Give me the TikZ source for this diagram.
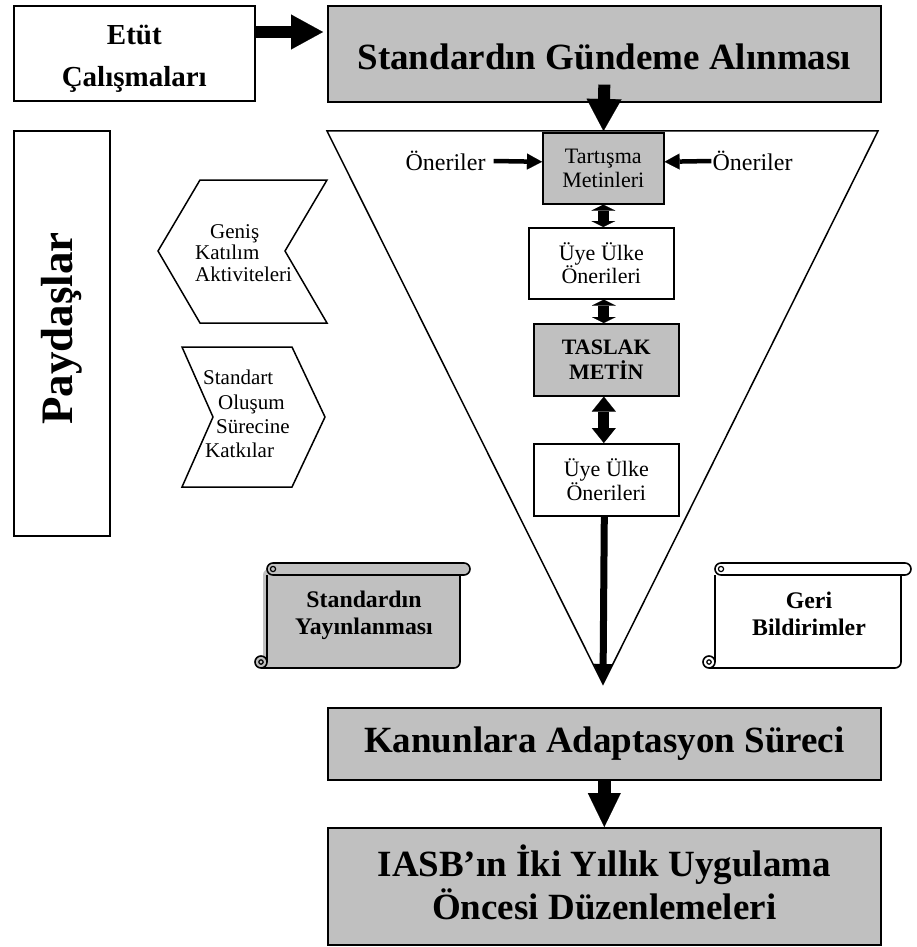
\documentclass[tikz,border=0pt]{standalone}
\usepackage{fontspec}
\setmainfont{Liberation Serif}
\usetikzlibrary{arrows.meta,calc}
\definecolor{boxgray}{RGB}{192,192,192}

% horizontal scroll: #1 left, #2 top, #3 right, #4 bottom, #5 fill colour
\newcommand\scrollbox[5]{%
  \fill[#5, rounded corners=6pt] ({#1+8},{#2+6}) -- ({#1+8},{#4}) -- ({#3-10},{#4}) -- ({#3-10},{#2+6}) -- cycle;
  \draw[line width=1.6pt] ({#1+12},{#2+12}) -- ({#1+12},{#4-6});
  \draw[line width=1.6pt, rounded corners=6pt] ({#1+6},{#4}) -- ({#3-10},{#4}) -- ({#3-10},{#2+12});
  \filldraw[fill=#5, line width=1.6pt] ({#1+6},{#4-6}) circle[radius=6pt];
  \draw[line width=1.2pt] ({#1+6},{#4-6}) circle[radius=2.2pt];
  \filldraw[fill=#5, line width=1.6pt, rounded corners=6pt] ({#1+12},{#2}) rectangle ({#3},{#2+12});
  \draw[line width=1.2pt] ({#1+18},{#2+6}) circle[radius=2.6pt];
}
% text lines lowered a little inside their box, keeping the box size
\newcommand\lowered[2]{\raisebox{-#1}[\height][\depth]{\begin{tabular}{@{}c@{}}#2\end{tabular}}}

\begin{document}
\begin{tikzpicture}[x=1pt,y=-1pt,
  box/.style={draw=black, line width=1.6pt, inner sep=0pt, align=center, anchor=north west},
  graybox/.style={box, fill=boxgray},
  bigtext/.style={font=\fontsize{37}{42}\selectfont\bfseries},
  smalltext/.style={font=\fontsize{22}{23.5}\selectfont},
  scrolltext/.style={font=\fontsize{23.8}{27}\selectfont\bfseries, align=center},
  blockarrow/.style={line width=12pt, -{Triangle[length=32pt, width=35pt, line width=0.1pt]}},
  dblarrow/.style={line width=11pt, {Triangle[length=6pt, width=24pt, line width=0.1pt]}-{Triangle[length=6pt, width=24pt, line width=0.1pt]}},
  dblarrowlong/.style={line width=11pt, {Triangle[length=15pt, width=24pt, line width=0.1pt]}-{Triangle[length=15pt, width=24pt, line width=0.1pt]}},
  thinarrow/.style={line width=4.5pt, -{Triangle[length=15pt, width=16pt, line width=0.1pt]}},
  outline/.style={draw=black, line width=1.5pt, line join=miter}
]
\useasboundingbox (0,0) rectangle (916,947);

% top row
\node[box, minimum width=241pt, minimum height=95pt, font=\fontsize{29}{42}\selectfont\bfseries] (etut) at (13,5) {\lowered{4pt}{Etüt\\Çalışmaları}};
\node[graybox, minimum width=553pt, minimum height=96pt, bigtext] (std) at (327,5) {\raisebox{-3pt}[\height][\depth]{Standardın Gündeme Alınması}};
\draw[blockarrow] ($(etut.north east)+(0,27)$) -- ($(std.north west)+(-4,27)$);

% funnel
\coordinate (tl) at (327,131);
\coordinate (tr) at (878,131);
\coordinate (tb) at (603,684);
\coordinate (tritop) at (603.5,131);
\draw[outline] (tl) -- (tr) -- (tb) -- cycle;
\draw[blockarrow] ($(std.south)+(0,-18)$) -- (tritop);

% stakeholders column
\node[box, rotate=90, anchor=center, minimum width=405pt, minimum height=96pt, font=\fontsize{45}{45}\selectfont\bfseries] (pay) at (62,333.5) {\hspace*{10pt}Paydaşlar};

\draw[outline] (200,180) -- (327,180) -- (285,251) -- (327,323) -- (200,323) -- (158,251) -- cycle;
\node[align=left, anchor=west, inner sep=0pt, font=\fontsize{21}{21.5}\selectfont] (genis) at (195,253) {\hspace*{15pt}Geniş\\Katılım\\Aktiviteleri};

\draw[outline] (182,347) -- (292,347) -- (325,417) -- (292,487) -- (182,487) -- (213,417) -- cycle;
\node[align=left, anchor=west, inner sep=0pt, font=\fontsize{21}{24.3}\selectfont] (katki) at (203,414) {Standart\\\hspace*{15pt}Oluşum\\\hspace*{13pt}Sürecine\\\hspace*{2pt}Katkılar};

% inner process column
\node[graybox, minimum width=121pt, minimum height=71pt, smalltext] (tart) at (542,132) {Tartışma\\Metinleri};
\node[box, minimum width=145pt, minimum height=71pt, smalltext] (uye1) at (528,227) {Üye Ülke\\Önerileri};
\node[graybox, minimum width=145pt, minimum height=72pt, font=\fontsize{22}{24.5}\selectfont\bfseries] (taslak) at (533,323) {TASLAK\\METİN};
\node[box, minimum width=145pt, minimum height=72pt, smalltext] (uye2) at (533,443) {Üye Ülke\\Önerileri};

\node[font=\fontsize{24}{26}\selectfont, inner sep=0pt] (onl) at (445.5,161) {Öneriler};
\node[font=\fontsize{24}{26}\selectfont, inner sep=0pt] (onr) at (752.5,161) {Öneriler};
\draw[thinarrow] ($(onl.east)+(8,0)$) -- ($(tart.west)+(0,-6.5)$);
\draw[thinarrow] ($(onr.west)+(-1,0)$) -- ($(tart.east)+(0,-6.5)$);

\draw[dblarrow] (tart.south) -- (tart.south |- uye1.north);
\draw[dblarrow] ($(uye1.south)+(2.5,0)$) -- ($(taslak.north)+(-2.5,0)$);
\draw[dblarrowlong] ($(taslak.south)+(-2.5,0)$) -- ($(uye2.north)+(-2.5,0)$);
\draw[line width=7pt, -{Triangle[length=20pt, width=19pt, line width=0.1pt]}] ($(uye2.south)+(-2,0)$) -- (tb);

% scrolls
\scrollbox{255}{563}{470}{668}{boxgray}
\node[scrolltext] (yayin) at (364,615) {Standardın\\Yayınlanması};
\scrollbox{703}{563}{911}{668}{white}
\node[scrolltext] (geri) at (809,614) {Geri\\Bildirimler};

% bottom boxes
\node[graybox, minimum width=553pt, minimum height=72pt, bigtext] (kan) at (327,707) {Kanunlara Adaptasyon Süreci};
\node[graybox, minimum width=553pt, minimum height=117pt, bigtext] (iasb) at (327,827) {\lowered{2pt}{IASB’ın İki Yıllık Uygulama\\Öncesi Düzenlemeleri}};
\draw[line width=13pt, -{Triangle[length=34pt, width=33pt, line width=0.1pt]}] (kan.south) -- (iasb.north);
\end{tikzpicture}
\end{document}
